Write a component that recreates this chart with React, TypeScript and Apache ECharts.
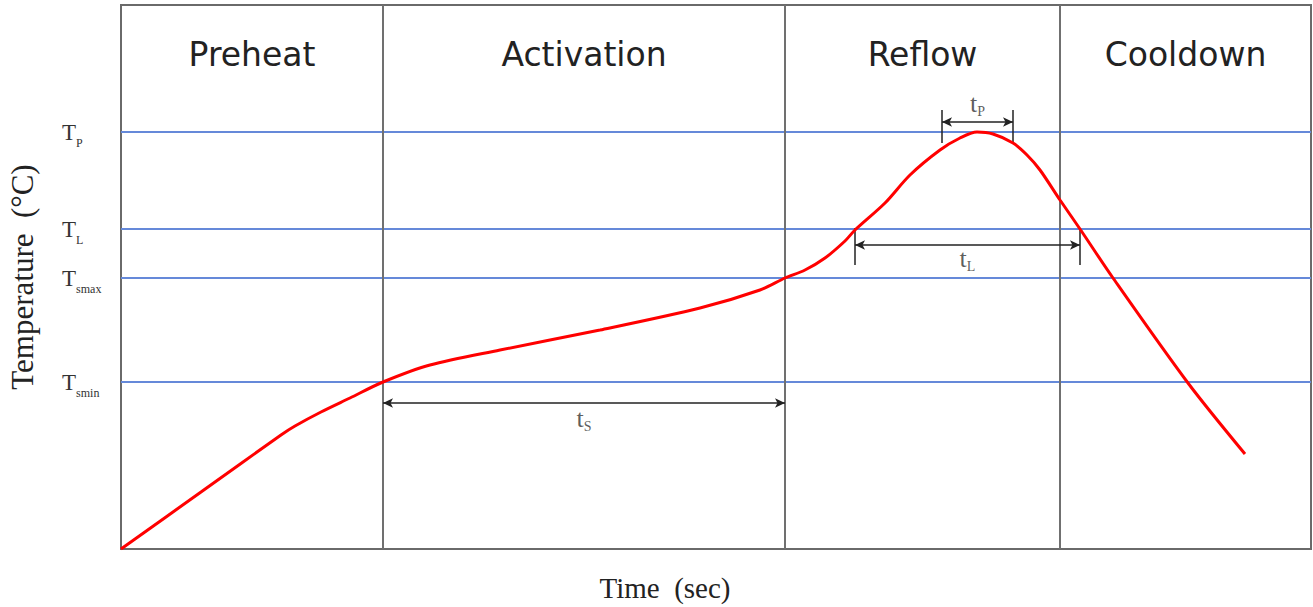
import React, { useEffect, useRef } from "react";
import * as echarts from "echarts";

// Phases (time axis, seconds-like units)
const phaseNames = ["Preheat", "Activation", "Reflow", "Cooldown"];
const phaseBounds = [0, 131, 332, 469.5, 595];

// Temperature levels
const levelNames = ["P", "L", "smax", "smin"];
const levelValues = [208.5, 160, 135.5, 83.5];

// Reflow profile curve
const curveTime = [0, 40, 80, 87, 100, 114.5, 131, 154.5, 189.5, 239.5, 289.5, 319.5, 332, 342, 352, 362, 367, 382, 394.5, 409.5, 419.5, 428, 436, 446, 453, 459.5, 469.5, 479.5, 496, 533.5, 562];
const curveTemp = [0, 28.5, 57, 61.5, 68.5, 75.5, 83.5, 92, 99.5, 109.5, 120.5, 129.5, 135.5, 139.5, 145.5, 154, 159.5, 173, 187, 199.5, 205.5, 208.5, 207.5, 203, 197, 189.5, 174.5, 160, 135.5, 83, 47.5];

// Time spans (tS, tL, tP)
const spanNames = ["S", "L", "P"];
const spanStart = [131, 367, 410.5];
const spanEnd = [332, 479.5, 446];
const spanArrowLevel = [73, 152, 213.5];
const spanTickLow = [null, 142, 203];
const spanTickHigh = [null, 160.5, 219.5];
const spanLabelLevel = [65.5, 145.5, 223];

const X_MAX = 595;
const Y_MAX = 272;

export default function App() {
  const ref = useRef<HTMLDivElement>(null);
  useEffect(() => {
    if (!ref.current) return;
    const chart = echarts.init(ref.current, undefined, { renderer: "svg" });

    const serif = "'Liberation Serif', 'Times New Roman', serif";
    const curve = curveTime.map((t, i) => [t, curveTemp[i]]);

    const arrowLines = spanNames.map((_, i) => [
      { coord: [spanStart[i], spanArrowLevel[i]] },
      { coord: [spanEnd[i], spanArrowLevel[i]] },
    ]);
    const tickLines: any[] = [];
    spanNames.forEach((_, i) => {
      if (spanTickLow[i] == null) return;
      [spanStart[i], spanEnd[i]].forEach((x) => {
        tickLines.push([
          { coord: [x, spanTickLow[i]] },
          { coord: [x, spanTickHigh[i]] },
        ]);
      });
    });

    const option: any = {
      animation: false,
      backgroundColor: "#ffffff",
      grid: {
        left: 121,
        right: 2,
        top: 5,
        bottom: 58,
        show: true,
        borderColor: "#6a6a6a",
        borderWidth: 2,
        backgroundColor: "transparent",
        containLabel: false,
        outerBoundsMode: "none",
      },
      xAxis: {
        type: "value",
        min: 0,
        max: X_MAX,
        axisLine: { show: true, lineStyle: { color: "#6a6a6a", width: 2 } },
        axisTick: { show: false },
        axisLabel: { show: false },
        splitLine: { show: false },
        name: "Time  (sec)",
        nameLocation: "middle",
        nameGap: 24,
        nameTextStyle: { fontFamily: serif, fontSize: 29, color: "#222", padding: [0, 102, 0, 0] },
      },
      yAxis: {
        type: "value",
        min: 0,
        max: Y_MAX,
        axisLine: { show: true, lineStyle: { color: "#6a6a6a", width: 2 } },
        axisTick: { show: false },
        splitLine: { show: false },
        name: "Temperature  (°C)",
        nameLocation: "middle",
        nameRotate: 90,
        nameGap: 83,
        nameTextStyle: { fontFamily: serif, fontSize: 31, color: "#222" },
        axisLabel: {
          show: true,
          customValues: levelValues,
          align: "left",
          margin: 59,
          formatter: (v: number) => {
            const i = levelValues.indexOf(v);
            return i >= 0 ? `{t|T}{s|${levelNames[i]}}` : "";
          },
          rich: {
            t: { fontFamily: serif, fontSize: 23, color: "#333" },
            s: { fontFamily: serif, fontSize: 12, color: "#333", verticalAlign: "bottom", padding: [22, 0, 0, 0] },
          },
        },
      },
      series: [
        {
          name: "frame",
          type: "line",
          data: [[0, 0]],
          symbol: "none",
          lineStyle: { opacity: 0 },
          silent: true,
          z: 1,
          markArea: {
            silent: true,
            itemStyle: { color: "rgba(0,0,0,0)" },
            label: {
              show: true,
              position: "insideTop",
              distance: 33,
              fontFamily: "'DejaVu Sans', sans-serif",
              fontSize: 33,
              color: "#222",
            },
            data: phaseNames.map((n, i) => [
              { name: n, xAxis: phaseBounds[i] },
              { xAxis: phaseBounds[i + 1] },
            ]),
          },
          markLine: {
            silent: true,
            symbol: "none",
            label: { show: false },
            data: [
              ...levelValues.map((v) => ({
                yAxis: v,
                lineStyle: { color: "#6589d9", width: 2, type: "solid" },
              })),
              ...phaseBounds.slice(1, 4).map((b) => ({
                xAxis: b,
                lineStyle: { color: "#707070", width: 2, type: "solid" },
              })),
            ],
          },
        },
        {
          name: "profile",
          type: "line",
          data: curve,
          smooth: 0.3,
          symbol: "none",
          lineStyle: { color: "#ff0000", width: 3 },
          silent: true,
          z: 5,
        },
        {
          name: "spans",
          type: "scatter",
          data: spanNames.map((n, i) => [(spanStart[i] + spanEnd[i]) / 2, spanLabelLevel[i], n]),
          symbolSize: 0,
          silent: true,
          z: 6,
          label: {
            show: true,
            position: "inside",
            formatter: (p: any) => `{t|t}{s|${p.data[2]}}`,
            rich: {
              t: { fontFamily: serif, fontSize: 26, color: "#333" },
              s: { fontFamily: serif, fontSize: 14, color: "#333", verticalAlign: "bottom", padding: [16, 0, 0, 0] },
            },
          },
          markLine: {
            silent: true,
            symbol: ["arrow", "arrow"],
            symbolSize: [7, 10],
            label: { show: false },
            lineStyle: { color: "#222", width: 1.5, type: "solid" },
            data: arrowLines,
          },
        },
        {
          name: "ticks",
          type: "line",
          data: [[0, 0]],
          symbol: "none",
          lineStyle: { opacity: 0 },
          silent: true,
          z: 6,
          markLine: {
            silent: true,
            symbol: "none",
            label: { show: false },
            lineStyle: { color: "#222", width: 1.5, type: "solid" },
            data: tickLines,
          },
        },
      ],
    };
    chart.setOption(option);
    return () => chart.dispose();
  }, []);

  return (
    <div
      ref={ref}
      style={{ position: "fixed", left: 0, top: 0, width: 1313, height: 607, background: "#fff" }}
    />
  );
}
